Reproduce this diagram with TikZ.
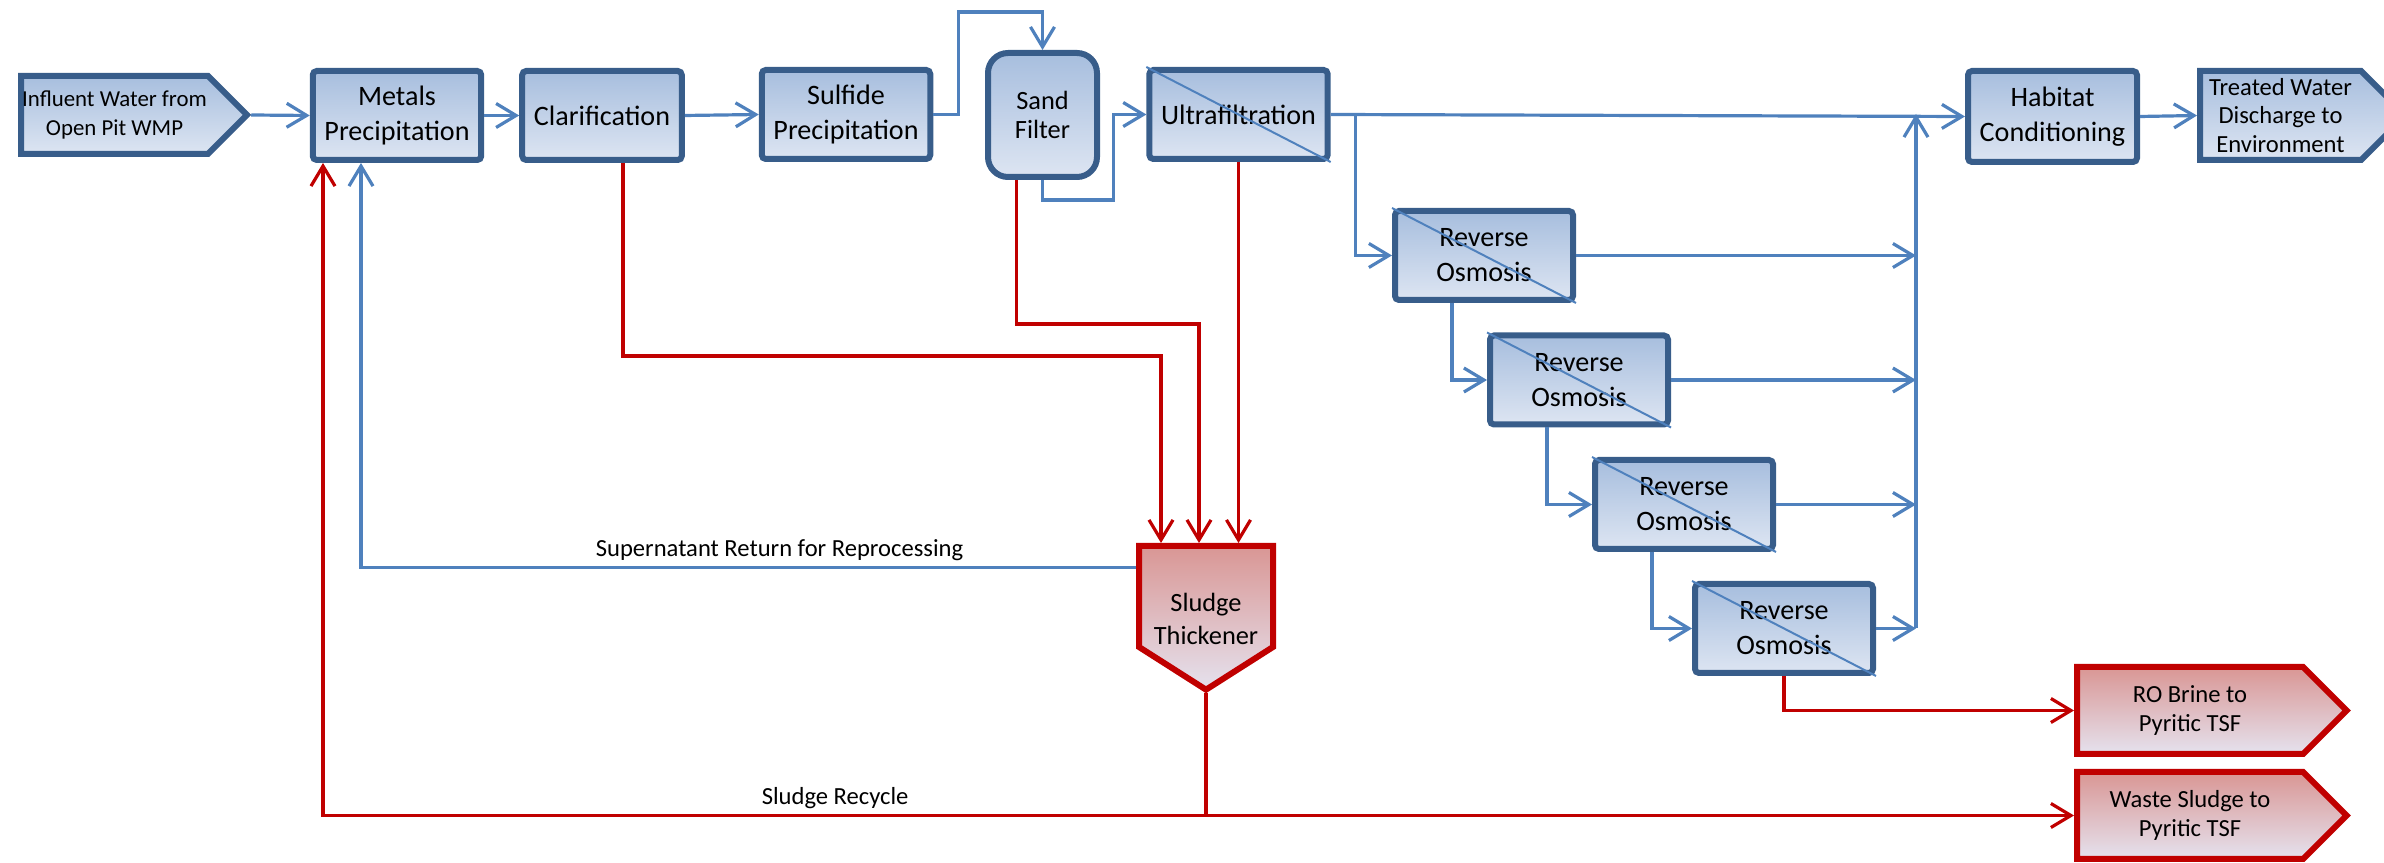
\documentclass[tikz,border=0pt]{standalone}
\usepackage{fontspec}
\setmainfont{Carlito}
\usetikzlibrary{positioning, arrows.meta, calc, shapes.symbols}
\definecolor{unitedge}{RGB}{56,93,138}
\definecolor{unittop}{RGB}{167,190,222}
\definecolor{unitbot}{RGB}{221,229,242}
\definecolor{waterblue}{RGB}{79,129,189}
\definecolor{sludgered}{RGB}{192,0,0}
\definecolor{sludgetop}{RGB}{217,150,148}
\definecolor{sludgebot}{RGB}{229,226,238}

\begin{document}
\begin{tikzpicture}[x=0.1mm, y=-0.1mm,
    every node/.style={font=\fontsize{8}{10}\selectfont},
    unit/.style={rectangle, draw=unitedge, line width=0.6mm, rounded corners=0.4mm,
                 top color=unittop, bottom color=unitbot, align=center,
                 minimum height=8.9mm},
    membrane/.style={unit, minimum width=17.8mm},
    feed/.style={signal, signal to=east, signal pointer angle=90, draw=unitedge,
                 line width=0.6mm, top color=unittop, bottom color=unitbot,
                 align=center, inner sep=0pt, font=\fontsize{7}{8}\selectfont},
    waste/.style={feed, draw=sludgered, top color=sludgetop, bottom color=sludgebot},
    diag/.style={draw=waterblue, line width=0.2mm},
    flow/.style={draw=waterblue, line width=0.32mm,
                 -{Straight Barb[length=2mm, width=2.4mm]}},
    sludge/.style={flow, draw=sludgered},
    lbl/.style={font=\fontsize{7}{8}\selectfont, inner sep=1.5pt},
  ]
    \useasboundingbox (0,0) rectangle (2384,863);
    % treatment train
    \node[feed, minimum width=22.6mm, minimum height=7.8mm,
          font=\fontsize{6.5}{8}\selectfont] (inf) at (114.5,115)
      {Influent Water from\\Open Pit WMP};
    \node[unit, minimum width=16mm] (MP) at (397,115.5) {Metals\\Precipitation};
    \node[unit, minimum width=11.6mm] (CL) at (602,115.5) {Clarification};
    \node[unit, minimum width=16.6mm] (SP) at (846,114.5) {Sulfide\\Precipitation};
    \node[unit, minimum width=10.9mm, minimum height=12.4mm, rounded corners=2mm,
          font=\fontsize{7.5}{8}\selectfont] (SF) at (1042.5,115) {Sand\\Filter};
    \node[membrane] (UF) at (1238.5,114.5) {Ultrafiltration};
    \draw[diag] (UF.north west) -- (UF.south east);
    \node[unit, minimum width=16.9mm, minimum height=9.1mm] (HC) at (2052.5,116.5)
      {Habitat\\Conditioning};
    \node[feed, minimum width=20.55mm, minimum height=8.9mm] (TW) at (2280.5,115.5)
      {Treated Water\\Discharge to\\Environment};
    \coordinate (col) at (1916,114);

    \draw[flow] (inf.east) -- (MP.west);
    \draw[flow] (MP.east) -- (CL.west);
    \draw[flow] (CL.east) -- (SP.west);
    \draw[flow] (SP.east) -- ++(25,0) |- ($(SF.north)+(0,-38)$) -- (SF.north);
    \draw[flow] (SF.south) -- ++(0,20) -- ++(71,0) |- (UF.west);
    \draw[flow] (UF.east) -- (HC.west);
    \draw[flow] (HC.east) -- (TW.west);

    % reverse osmosis cascade
    \foreach \i/\x/\y in {1/1484/255.5, 2/1579/380, 3/1684/504.5, 4/1784/628.5} {
      \node[membrane] (RO\i) at (\x,\y) {Reverse\\Osmosis};
      \draw[diag] (RO\i.north west) -- (RO\i.south east);
      \draw[flow] (RO\i.east) -- (RO\i.east -| col);
    }
    \foreach \a/\b in {1/2, 2/3, 3/4}
      \draw[flow] ($(RO\a.south west)+(60,0)$) |- (RO\b.west);
    \draw[flow] ($(UF.east)+(25,0)$) |- (RO1.west);
    \draw[flow] (RO4.east -| col) -- (col);

    % sludge handling
    \node[waste, signal to=south, signal pointer angle=115, minimum width=13.4mm,
          minimum height=10.1mm] (ST) at (1206,596.5) {};
    \node[font=\fontsize{7.5}{9.4}\selectfont, align=center] (STt) at (1206,619)
      {Sludge\\Thickener};
    \node[waste, minimum width=26.95mm, minimum height=8.7mm] (RB) at (2190,710.5)
      {RO Brine to\\Pyritic TSF};
    \node[waste, minimum width=26.95mm, minimum height=8.7mm] (WS) at (2190,815.5)
      {Waste Sludge to\\Pyritic TSF};

    \draw[sludge] ($(CL.south)+(21,0)$) -- ++(0,193) -| ($(ST.north)+(-45,0)$);
    \draw[sludge] ($(SF.south)+(-26,0)$) -- ++(0,144) -| ($(ST.north)+(-7,0)$);
    \draw[sludge] (UF.south) -- (UF.south |- ST.north);
    \draw[flow] ($(ST.west)+(0,-29)$) -| ($(MP.south)+(-36,0)$)
      node[lbl, above, pos=0.23] (sup) {Supernatant Return for Reprocessing};
    \draw[sludge] (ST.south) |- (WS.west);
    \draw[sludge] (ST.south |- WS.west) -| ($(MP.south)+(-74,0)$)
      node[lbl, above, pos=0.21] (rec) {Sludge Recycle};
    \draw[sludge] (RO4.south) |- (RB.west);
\end{tikzpicture}
\end{document}
